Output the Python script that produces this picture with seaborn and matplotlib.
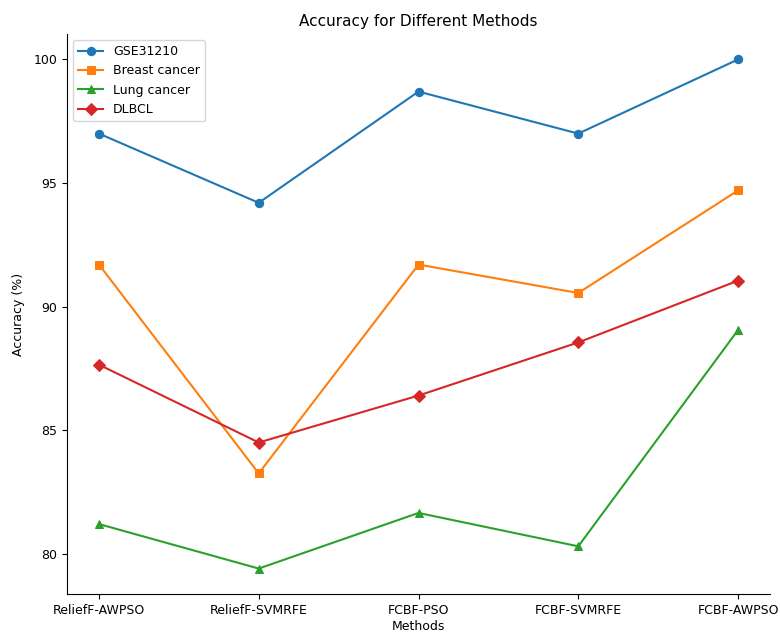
import matplotlib
matplotlib.use("Agg")
import matplotlib.pyplot as plt
import seaborn as sns
import pandas as pd

methods = ["ReliefF-AWPSO", "ReliefF-SVMRFE", "FCBF-PSO", "FCBF-SVMRFE", "FCBF-AWPSO"]
gse31210 = [97.0, 94.2, 98.7, 97.0, 100.0]
breast_cancer = [91.7, 83.25, 91.7, 90.55, 94.7]
lung_cancer = [81.2, 79.4, 81.65, 80.3, 89.05]
dlbcl = [87.65, 84.5, 86.4, 88.55, 91.05]

series = {
    "GSE31210": (gse31210, "o"),
    "Breast cancer": (breast_cancer, "s"),
    "Lung cancer": (lung_cancer, "^"),
    "DLBCL": (dlbcl, "D"),
}

rows = []
for name, (vals, _) in series.items():
    for m, v in zip(methods, vals):
        rows.append({"Methods": m, "Accuracy": v, "Dataset": name})
df = pd.DataFrame(rows)

plt.rcParams["font.family"] = ["DejaVu Sans"]

fig = plt.figure(figsize=(7.8, 6.32), dpi=100)
ax = fig.add_axes([67 / 780, 1 - 594 / 632, (770 - 67) / 780, (594 - 34) / 632])

palette = sns.color_palette("tab10", 4)
for (name, (vals, marker)), color in zip(series.items(), palette):
    sub = df[df["Dataset"] == name]
    sns.lineplot(data=sub, x="Methods", y="Accuracy", marker=marker, color=color,
                 label=name, ax=ax, markersize=6, markeredgecolor=color, linewidth=1.5)

ax.set_title("Accuracy for Different Methods", fontsize=11, pad=6)
ax.set_xlabel("Methods", fontsize=9, labelpad=2)
ax.set_ylabel("Accuracy (%)", fontsize=9, labelpad=6)
ax.tick_params(labelsize=9)
ax.set_yticks([80, 85, 90, 95, 100])
ax.legend(loc="upper left", fontsize=9, frameon=True)
sns.despine(ax=ax)

fig.savefig("out.png", dpi=100)
